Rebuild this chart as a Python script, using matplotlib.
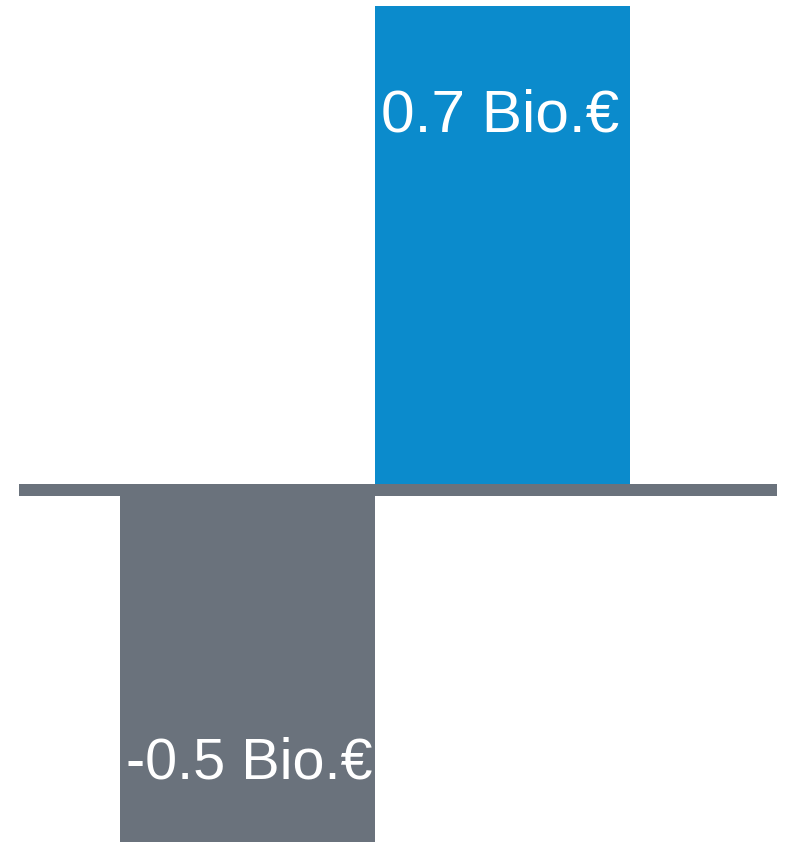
import matplotlib
matplotlib.use("Agg")
import matplotlib.pyplot as plt

categories = ["A", "B"]
values = [-0.51, 0.7]
labels = ["-0.5 Bio.€", "0.7 Bio.€"]
colors = ["#6A727C", "#0B8BCC"]

fig = plt.figure(figsize=(7.86, 8.42), dpi=100)
ax = fig.add_axes([19 / 786, 0, 758 / 786, 1])

x = list(range(len(categories)))
bars = ax.bar(x, values, width=1.0, color=colors, edgecolor="none", zorder=1)
ax.axhline(0, color="#6A727C", linewidth=8.64, solid_capstyle="butt", zorder=3)

ax.set_xlim(-0.8953, 2.0753)
ax.set_ylim(-0.5091, 0.7087)
ax.axis("off")

for xi, v, lab in zip(x, values, labels):
    if v >= 0:
        off = (-1.5, -90.5)
        fs = 43.5
    else:
        off = (1.5, 46.5)
        fs = 41.5
    ax.annotate(lab, xy=(xi, v), xytext=off, textcoords="offset points",
                ha="center", va="baseline", color="white", fontsize=fs,
                family=["Liberation Sans", "DejaVu Sans"], zorder=4,
                annotation_clip=False)

fig.savefig("out.png", dpi=100)
